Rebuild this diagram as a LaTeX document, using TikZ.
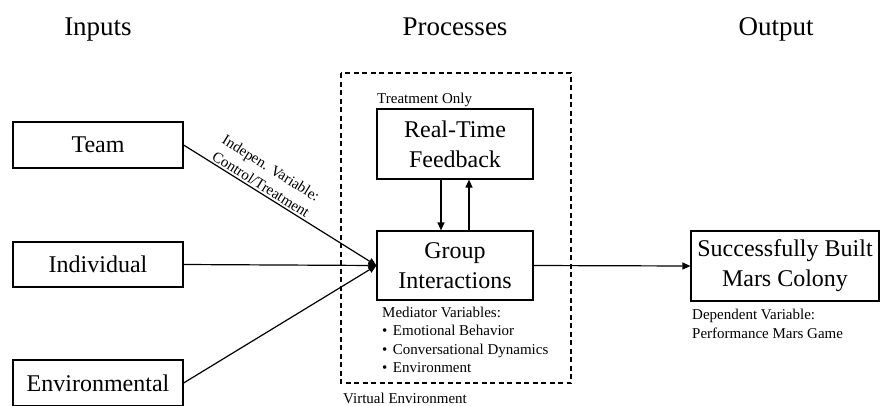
\documentclass[tikz,border=0pt]{standalone}
\usepackage{fontspec}
\setmainfont{Liberation Serif}
\usetikzlibrary{arrows.meta}

\newcommand\headsize{\fontsize{27pt}{32pt}\selectfont}
\newcommand\boxsize{\fontsize{24pt}{30pt}\selectfont}
\newcommand\notesize{\fontsize{15pt}{19pt}\selectfont}

\tikzset{
  box/.style={draw, line width=1.2pt, inner sep=0pt, align=center, font=\boxsize},
  heading/.style={anchor=base, font=\headsize, inner sep=0pt},
  note/.style={anchor=base west, font=\notesize, inner sep=0pt},
  conn/.style={line width=1.2pt, -{Triangle[length=8pt,width=7pt]}},
  frame/.style={line width=1.2pt, dash pattern=on 5pt off 3.5pt},
}

\begin{document}
\begin{tikzpicture}[x=1pt, y=-1pt]
  \useasboundingbox (0,0) rectangle (880,405);
  \clip (0,0) rectangle (880,405);

  % column headings
  \node[heading] (hin)  at (98,35)  {Inputs};
  \node[heading] (hpro) at (455,35) {Processes};
  \node[heading] (hout) at (776,35) {Output};

  % virtual environment frame
  \draw[frame] (341,73) rectangle (571,383);
  \node[note] (venv) at (343,403) {Virtual Environment};

  % inputs
  \node[box, minimum width=170pt, minimum height=46pt] (team) at (98,145)   {Team};
  \node[box, minimum width=170pt, minimum height=45pt] (ind)  at (98,264.5) {Individual};
  \node[box, minimum width=170pt, minimum height=46pt] (env)  at (98,383)   {Environmental};

  % processes
  \node[note] (tonly) at (377,103) {Treatment Only};
  \node[box, minimum width=156pt, minimum height=70pt] (fb)  at (455,144)   {Real-Time\\Feedback};
  \node[box, minimum width=156pt, minimum height=69pt] (grp) at (455,265.5) {Group\\Interactions};

  \node[note] (med)  at (382,317)   {Mediator Variables:};
  \node[note] (med1) at (382,335.5) {\textbullet\hspace{5.5pt}Emotional Behavior};
  \node[note] (med2) at (382,354)   {\textbullet\hspace{5.5pt}Conversational Dynamics};
  \node[note] (med3) at (382,372.5) {\textbullet\hspace{5.5pt}Environment};

  % output
  \node[box, minimum width=188pt, minimum height=70pt] (out) at (785,266) {Successfully Built\\Mars Colony};
  \node[note] (dep1) at (692,319) {Dependent Variable:};
  \node[note] (dep2) at (692,338) {Performance Mars Game};

  % connectors
  \draw[conn] (team.east) -- node[sloped, above, pos=0.38, font=\notesize, align=center, inner sep=2pt] (ivlabel) {Indepen. Variable:\\Control/Treatment} (grp.west);
  \draw[conn] (ind.east) -- (grp.west);
  \draw[conn] (env.east) -- (grp.west);
  \draw[conn] ([xshift=-14pt]fb.south) -- ([xshift=-14pt]grp.north);
  \draw[conn] ([xshift=14pt]grp.north) -- ([xshift=14pt]fb.south);
  \draw[conn] (grp.east) -- (out.west);
\end{tikzpicture}
\end{document}
